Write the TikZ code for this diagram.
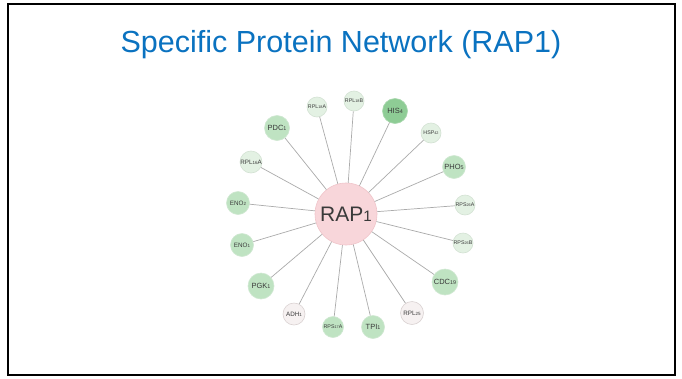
\documentclass[tikz,border=0pt]{standalone}
\usepackage{fontspec}
\setmainfont{Liberation Sans}
\definecolor{titleblue}{HTML}{0A72C0}
\definecolor{gdark}{HTML}{8ECC95}
\definecolor{gdarkb}{HTML}{A9D8AE}
\definecolor{gmid}{HTML}{BFE3C2}
\definecolor{gmidb}{HTML}{CFE8D1}
\definecolor{gpale}{HTML}{E3F1E3}
\definecolor{gpaleb}{HTML}{D3E2D3}
\definecolor{wpale}{HTML}{F6F1F1}
\definecolor{wpaleb}{HTML}{DAD2D2}
\definecolor{rapfill}{HTML}{F8D6DA}
\definecolor{rapdraw}{HTML}{F0C4C9}
\definecolor{edgecol}{HTML}{ABABAB}
\definecolor{txt}{HTML}{3A3A3A}
\newcommand{\lowd}[1]{\scalebox{0.72}{#1}}
\tikzset{
  prot/.style={circle, inner sep=0pt, line width=0.6pt, text=txt, font=\fontsize{7.5}{7.5}\selectfont},
  pdark/.style={prot, fill=gdark, draw=gdarkb},
  pmid/.style={prot, fill=gmid, draw=gmidb},
  ppale/.style={prot, fill=gpale, draw=gpaleb},
  pwhite/.style={prot, fill=wpale, draw=wpaleb},
  sz/.style={minimum size=#1*2pt},
  tiny/.style={font=\fontsize{5.3}{5.3}\selectfont},
  small/.style={font=\fontsize{6.3}{6.3}\selectfont},
  edge/.style={draw=edgecol, line width=0.7pt}
}
\begin{document}
\begin{tikzpicture}[x=1pt,y=-1pt]
\useasboundingbox (0,0) rectangle (682,378);
\fill[white] (0,0) rectangle (682,378);
\draw[line width=2.8pt, black] (8,4) rectangle (675,375);
\node[text=titleblue, font=\fontsize{30.5}{30.5}\selectfont] (title) at (341,45) {Specific Protein Network (RAP1)};

\node[prot, fill=rapfill, draw=rapdraw, minimum size=62pt, font=\fontsize{21}{21}\selectfont] (rap) at (346,214) {RAP\lowd{1}};

\node[ppale, sz=10, tiny] (rpl18a) at (317,107) {RPL\lowd{18}A};
\node[ppale, sz=10, tiny] (rpl18b) at (354,101) {RPL\lowd{18}B};
\node[pdark, sz=12.5] (his4) at (395,111) {HIS\lowd{4}};
\node[ppale, sz=10, tiny] (hsp42) at (431,133) {HSP\lowd{42}};
\node[pmid, sz=11.5] (pho5) at (454,167) {PHO\lowd{5}};
\node[ppale, sz=10, tiny] (rps26a) at (465,205) {RPS\lowd{26}A};
\node[ppale, sz=10, tiny] (rps26b) at (463,243) {RPS\lowd{26}B};
\node[pmid, sz=13] (cdc19) at (445,282) {CDC\lowd{19}};
\node[pwhite, sz=11.5, small] (rpl25) at (412,313) {RPL\lowd{25}};
\node[pmid, sz=11.5] (tpi1) at (373,327) {TPI\lowd{1}};
\node[pmid, sz=10.5, tiny] (rps17a) at (333,327) {RPS\lowd{17}A};
\node[pwhite, sz=11, small] (adh1) at (294,314) {ADH\lowd{1}};
\node[pmid, sz=13] (pgk1) at (261,286) {PGK\lowd{1}};
\node[pmid, sz=11.5, small] (eno1) at (242,245) {ENO\lowd{1}};
\node[pmid, sz=11.5, small] (eno2) at (238,203) {ENO\lowd{2}};
\node[ppale, sz=11, small] (rpl16a) at (251,162) {RPL\lowd{16}A};
\node[pmid, sz=12.5] (pdc1) at (277,128) {PDC\lowd{1}};

\foreach \n in {rpl18a,rpl18b,his4,hsp42,pho5,rps26a,rps26b,cdc19,rpl25,tpi1,rps17a,adh1,pgk1,eno1,eno2,rpl16a,pdc1}
  \draw[edge] (rap) -- (\n);
\end{tikzpicture}
\end{document}
